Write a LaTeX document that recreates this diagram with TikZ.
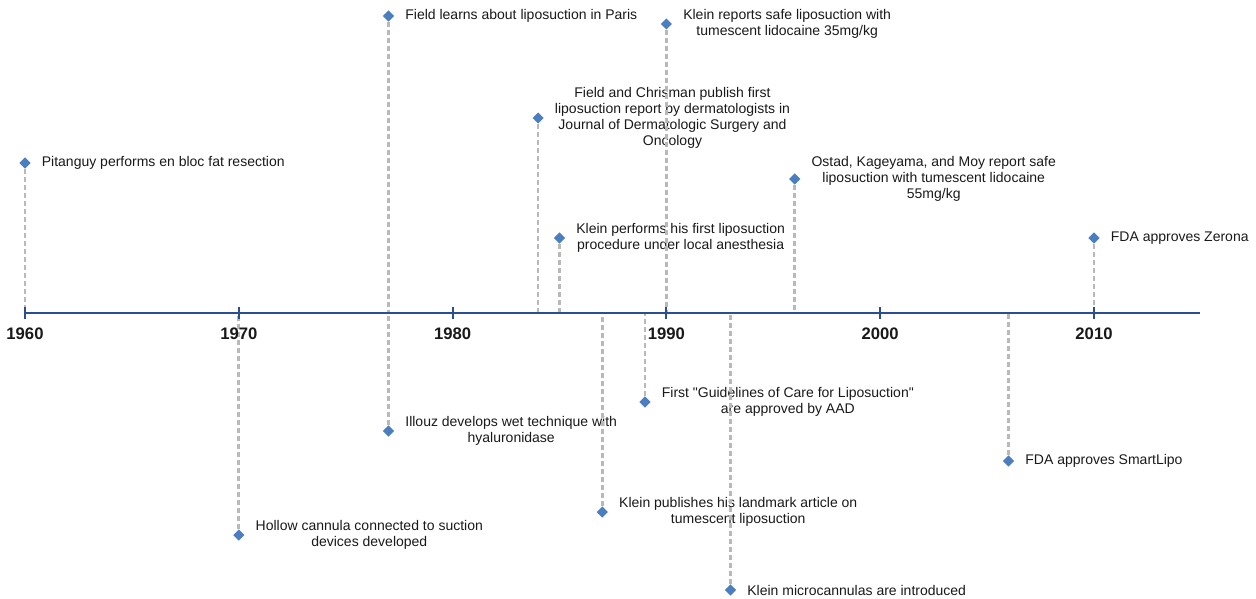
\documentclass[tikz,border=0pt]{standalone}
\usepackage{fontspec}
\setmainfont{Liberation Sans}[Ligatures=TeXOff]
\usetikzlibrary{positioning,shapes.geometric}
\definecolor{markblue}{RGB}{74,126,193}
\definecolor{axisblue}{RGB}{41,78,146}
\definecolor{leadgray}{RGB}{185,185,185}
\definecolor{notetext}{RGB}{25,25,25}
\tikzset{
  event/.style={diamond,fill=markblue,inner sep=0pt,minimum size=8.5pt},
  note/.style={align=center,inner sep=0pt,text=notetext,font=\fontsize{10.5}{12}\selectfont},
  lead/.style={leadgray,line width=2pt,dash pattern=on 4pt off 2pt},
  yearlabel/.style={inner sep=0pt,text=notetext,font=\fontsize{12.5}{14}\selectfont\bfseries},
  tick/.style={axisblue,line width=1.5pt}
}
\begin{document}
      \begin{tikzpicture}[x=0.75pt,y=-0.75pt]
        \useasboundingbox (0,0) rectangle (1256,599);
        \coordinate (t1960) at (25,313);
        \coordinate (t1970) at (238.8,313);
        \coordinate (t1980) at (452.6,313);
        \coordinate (t1990) at (666.4,313);
        \coordinate (t2000) at (880.2,313);
        \coordinate (t2010) at (1094,313);
        \coordinate (axisend) at (1200,313);
        \coordinate (a1977) at (388.5,313);
        \coordinate (a1984) at (538.1,313);
        \coordinate (a1985) at (559.5,313);
        \coordinate (a1987) at (602.3,313);
        \coordinate (a1989) at (645,313);
        \coordinate (a1993) at (730.5,313);
        \coordinate (a1996) at (794.7,313);
        \coordinate (a2006) at (1008.5,313);
        \node[event] (pitanguy) at (25,163) {};
        \node[event] (cannula) at (238.8,535) {};
        \node[event] (paris) at (388.5,16) {};
        \node[event] (illouz) at (388.5,431) {};
        \node[event] (chrisman) at (538.1,118) {};
        \node[event] (firstlocal) at (559.5,238) {};
        \node[event] (landmark) at (602.3,512) {};
        \node[event] (guidelines) at (645,402) {};
        \node[event] (safe35) at (666.4,24) {};
        \node[event] (microcan) at (730.5,590) {};
        \node[event] (safe55) at (794.7,179) {};
        \node[event] (smartlipo) at (1008.5,461) {};
        \node[event] (zerona) at (1094,238) {};
        \node[note,right=8pt of pitanguy] (pitanguytext) {Pitanguy performs en bloc fat resection};
        \node[note,right=8pt of cannula] (cannulatext) {Hollow cannula connected to suction\\devices developed};
        \node[note,right=8pt of paris] (paristext) {Field learns about liposuction in Paris};
        \node[note,right=8pt of illouz] (illouztext) {Illouz develops wet technique with\\hyaluronidase};
        \node[note,right=8pt of chrisman] (chrismantext) {Field and Chrisman publish first\\liposuction report by dermatologists in\\Journal of Dermatologic Surgery and\\Oncology};
        \node[note,right=8pt of firstlocal] (firstlocaltext) {Klein performs his first liposuction\\procedure under local anesthesia};
        \node[note,right=8pt of landmark] (landmarktext) {Klein publishes his landmark article on\\tumescent liposuction};
        \node[note,right=8pt of guidelines] (guidelinestext) {First "Guidelines of Care for Liposuction"\\are approved by AAD};
        \node[note,right=8pt of safe35] (safe35text) {Klein reports safe liposuction with\\tumescent lidocaine 35mg/kg};
        \node[note,right=8pt of microcan] (microcantext) {Klein microcannulas are introduced};
        \node[note,right=8pt of safe55] (safe55text) {Ostad, Kageyama, and Moy report safe\\liposuction with tumescent lidocaine\\55mg/kg};
        \node[note,right=8pt of smartlipo] (smartlipotext) {FDA approves SmartLipo};
        \node[note,right=8pt of zerona] (zeronatext) {FDA approves Zerona};
        \draw[lead] (pitanguy) -- (t1960);
        \draw[lead] (cannula) -- (t1970);
        \draw[lead] (paris) -- (a1977);
        \draw[lead] (illouz) -- (a1977);
        \draw[lead] (chrisman) -- (a1984);
        \draw[lead] (firstlocal) -- (a1985);
        \draw[lead] (landmark) -- (a1987);
        \draw[lead] (guidelines) -- (a1989);
        \draw[lead] (safe35) -- (t1990);
        \draw[lead] (microcan) -- (a1993);
        \draw[lead] (safe55) -- (a1996);
        \draw[lead] (smartlipo) -- (a2006);
        \draw[lead] (zerona) -- (t2010);
        \draw[axisblue,line width=2.2pt] (t1960) -- (axisend);
        \draw[tick] (t1960) ++(0,-6) -- ++(0,12);
        \draw[tick] (t1970) ++(0,-6) -- ++(0,12);
        \draw[tick] (t1980) ++(0,-6) -- ++(0,12);
        \draw[tick] (t1990) ++(0,-6) -- ++(0,12);
        \draw[tick] (t2000) ++(0,-6) -- ++(0,12);
        \draw[tick] (t2010) ++(0,-6) -- ++(0,12);
        \node[yearlabel,below=11pt of t1960] (y1960) {1960};
        \node[yearlabel,below=11pt of t1970] (y1970) {1970};
        \node[yearlabel,below=11pt of t1980] (y1980) {1980};
        \node[yearlabel,below=11pt of t1990] (y1990) {1990};
        \node[yearlabel,below=11pt of t2000] (y2000) {2000};
        \node[yearlabel,below=11pt of t2010] (y2010) {2010};
      \end{tikzpicture}
\end{document}
